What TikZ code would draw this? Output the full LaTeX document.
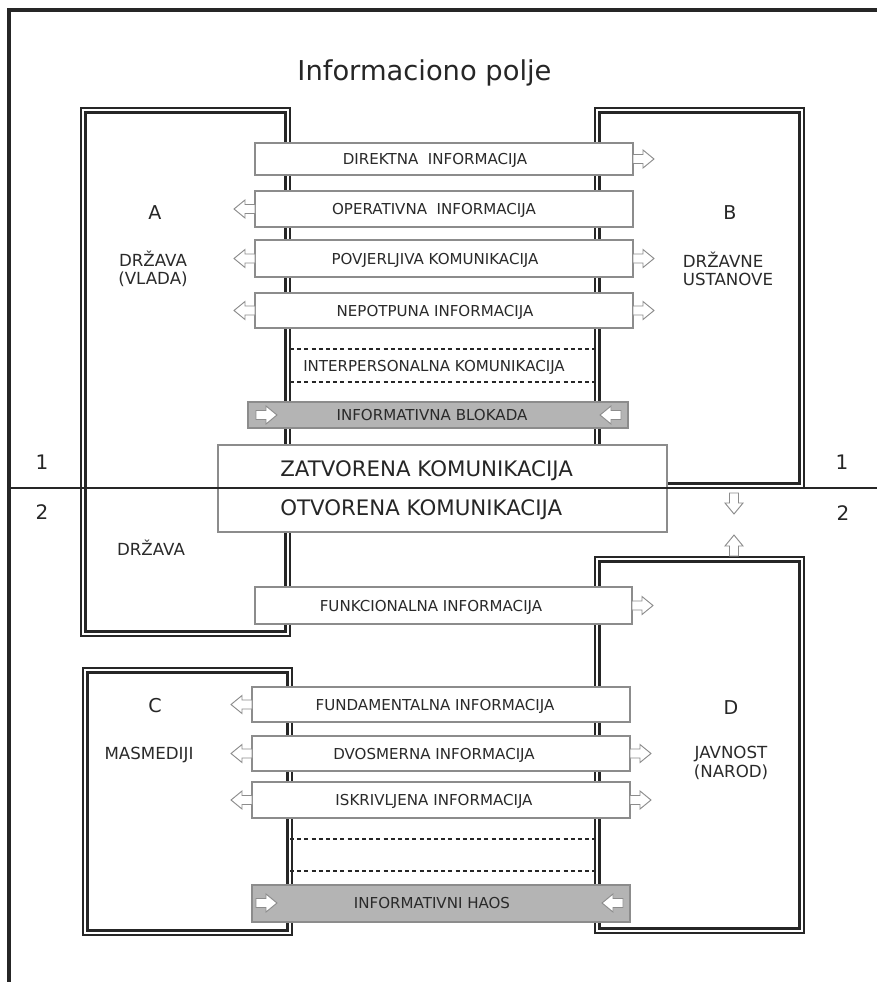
\documentclass[tikz,border=0pt]{standalone}
\usepackage{fontspec}
\setmainfont{DejaVu Sans}
\usetikzlibrary{fit}
\definecolor{frm}{HTML}{262626}
\definecolor{bxl}{HTML}{8C8C8C}
\definecolor{gfill}{HTML}{B4B4B4}
\definecolor{txt}{HTML}{2A2A2A}
\tikzset{
  region/.style={inner sep=0pt, outer sep=0pt},
  box/.style={draw=bxl, line width=0.8pt, fill=white, inner sep=0pt, outer sep=0pt},
  gbox/.style={draw=bxl, line width=0.8pt, fill=gfill, inner sep=0pt, outer sep=0pt},
  bt/.style={font=\fontsize{11.3}{13}\selectfont, text=txt, inner sep=0pt, anchor=base},
  bigt/.style={font=\fontsize{16}{19}\selectfont, text=frm, inner sep=0pt, anchor=base west},
  lt/.style={font=\fontsize{12.5}{14}\selectfont, text=txt, inner sep=0pt},
  letter/.style={font=\fontsize{14.3}{17}\selectfont, text=frm, inner sep=0pt, anchor=base},
  num/.style={font=\fontsize{15}{18}\selectfont, text=frm, inner sep=0pt, anchor=base},
  dline/.style={draw=frm, line width=1.5pt, dash pattern=on 3pt off 2.4pt},
  hollow/.style={draw=bxl, fill=white, line width=0.7pt, line join=miter},
  harrow/.pic={\path[hollow] (0,-4.5)--(10,-4.5)--(10,-9)--(21,0)--(10,9)--(10,4.5)--(0,4.5)--cycle;},
}
\newcommand\dframe[1]{%
  \draw[draw=frm, line width=1.65pt] ([shift={(1.1,1.1)}]#1.north west) rectangle ([shift={(-1.1,-1.1)}]#1.south east);
  \draw[draw=frm, line width=2.4pt] ([shift={(5.6,5.6)}]#1.north west) rectangle ([shift={(-5.6,-5.6)}]#1.south east);}
\begin{document}
\begin{tikzpicture}[x=0.75pt, y=-0.75pt]
\useasboundingbox (0,0) rectangle (877,982);
\fill[white] (0,0) rectangle (877,982);
% outer frame
\draw[draw=frm, line width=3pt] (9,982) -- (9,9.5) -- (877,9.5);
% title
\node[font=\fontsize{20.5}{24}\selectfont, text=frm, inner sep=0pt, anchor=base] (title) at (424.5,80) {Informaciono polje};
% regions
\node[region, fit={(80,107) (291,637)}] (A) {};
\node[region, fit={(594,107) (805,489)}] (B) {};
\node[region, fit={(82,667) (293,936)}] (C) {};
\node[region, fit={(594,556) (805,934)}] (D) {};
\dframe{A}\dframe{B}\dframe{C}\dframe{D}
% region labels
\node[letter] (la) at (155,219) {A};
\node[lt, align=center] (lav) at (153,269) {DRŽAVA\\(VLADA)};
\node[letter] (lb) at (730,219) {B};
\node[lt, align=left] (lbv) at (728,269) {DRŽAVNE\\USTANOVE};
\node[lt] (la2) at (151,548) {DRŽAVA};
\node[letter] (lc) at (155,712) {C};
\node[lt] (lcv) at (149,755) {MASMEDIJI};
\node[letter] (ld) at (731,714) {D};
\node[lt, align=center] (ldv) at (731,763) {JAVNOST\\(NAROD)};
% numbers
\node[num] (n1l) at (42,469.5) {1};
\node[num] (n2l) at (42,519.5) {2};
\node[num] (n1r) at (842,469.5) {1};
\node[num] (n2r) at (843,520) {2};
% upper band
\node[box, fit={(255,143) (633,175)}] (b1) {};
\node[bt] (t1) at (435,164.5) {DIREKTNA\ \ INFORMACIJA};
\pic at (b1.east) {harrow};
\node[box, fit={(255,191) (633,227)}] (b2) {};
\node[bt] (t2) at (434,214.5) {OPERATIVNA\ \ INFORMACIJA};
\pic[rotate=180] at (b2.west) {harrow};
\node[box, fit={(255,240) (633,277)}] (b3) {};
\node[bt] (t3) at (435,264) {POVJERLJIVA KOMUNIKACIJA};
\pic[rotate=180] at (b3.west) {harrow};
\pic at (b3.east) {harrow};
\node[box, fit={(255,293) (633,328)}] (b4) {};
\node[bt] (t4) at (435,316) {NEPOTPUNA INFORMACIJA};
\pic[rotate=180] at (b4.west) {harrow};
\pic at (b4.east) {harrow};
\draw[dline] (290,349) -- (595,349);
\draw[dline] (290,382) -- (595,382);
\node[bt] (t5) at (434,371.5) {INTERPERSONALNA KOMUNIKACIJA};
\node[gbox, fit={(248,402) (628,428)}] (g1) {};
\node[bt] (t6) at (432,420.5) {INFORMATIVNA BLOKADA};
\pic at (256,415) {harrow};
\pic[rotate=180] at (621,415) {harrow};
% middle
\node[box, fit={(218,445) (667,532)}] (zo) {};
\node[bigt] (tz) at (280,476.8) {ZATVORENA KOMUNIKACIJA};
\node[bigt] (to) at (280,515.8) {OTVORENA KOMUNIKACIJA};
\draw[draw=frm, line width=0.8pt] (9,488) -- (877,488);
\pic[rotate=-90] at (734,493) {harrow};
\pic[rotate=90] at (734,556) {harrow};
\node[box, fit={(255,587) (632,624)}] (f1) {};
\node[bt] (tf) at (431,611) {FUNKCIONALNA INFORMACIJA};
\pic at (f1.east) {harrow};
% lower band
\node[box, fit={(252,687) (630,722)}] (c1) {};
\node[bt] (tc1) at (435,710) {FUNDAMENTALNA INFORMACIJA};
\pic[rotate=180] at (c1.west) {harrow};
\node[box, fit={(252,736) (630,771)}] (c2) {};
\node[bt] (tc2) at (434,759) {DVOSMERNA INFORMACIJA};
\pic[rotate=180] at (c2.west) {harrow};
\pic at (c2.east) {harrow};
\node[box, fit={(252,782) (630,818)}] (c3) {};
\node[bt] (tc3) at (434,805.5) {ISKRIVLJENA INFORMACIJA};
\pic[rotate=180] at (c3.west) {harrow};
\pic at (c3.east) {harrow};
\draw[dline] (290,839) -- (595,839);
\draw[dline] (290,871) -- (595,871);
\node[gbox, fit={(252,885) (630,922)}] (g2) {};
\node[bt] (t7) at (432,908.5) {INFORMATIVNI HAOS};
\pic at (256,903) {harrow};
\pic[rotate=180] at (623,903) {harrow};
\end{tikzpicture}
\end{document}
